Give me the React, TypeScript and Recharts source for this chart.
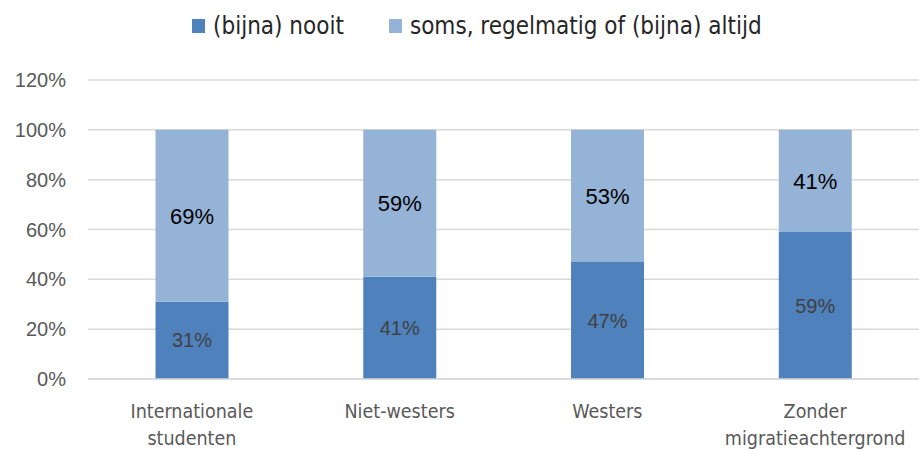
import React from 'react';
import { BarChart, Bar, XAxis, YAxis, CartesianGrid, LabelList } from 'recharts';

const categories = ['Internationale studenten', 'Niet-westers', 'Westers', 'Zonder migratieachtergrond'];
const categoryLines = [['Internationale', 'studenten'], ['Niet-westers'], ['Westers'], ['Zonder', 'migratieachtergrond']];
const nooit = [31, 41, 47, 59];
const soms = [69, 59, 53, 41];
const yTicks = [0, 20, 40, 60, 80, 100, 120];

const seriesNames = ['(bijna) nooit', 'soms, regelmatig of (bijna) altijd'];
const DARK = '#4F81BD';
const LIGHT = '#95B3D7';
const FONT = '"Liberation Sans", sans-serif';
const NARROW = '"DejaVu Sans Condensed", "Liberation Sans", sans-serif';

const data = categories.map((name, i) => ({
  name,
  nooit: nooit[i],
  soms: soms[i],
}));

const CategoryTick = (props: any) => {
  const { x, y, payload, index } = props;
  const lines = categoryLines[index] || [payload.value];
  return (
    <text x={x} y={y} textAnchor="middle" fill="#595959" fontSize={19.5} fontFamily={NARROW}>
      {lines.map((l: string, i: number) => (
        <tspan key={i} x={x} dy={i === 0 ? 31 : 27}>
          {l}
        </tspan>
      ))}
    </text>
  );
};

const LegendBox = () => (
  <div
    style={{
      position: 'absolute',
      top: 12,
      left: 192,
      display: 'flex',
      fontFamily: NARROW,
      fontSize: 24,
      lineHeight: '28px',
      color: '#262626',
      whiteSpace: 'nowrap',
    }}
  >
    {seriesNames.map((n, i) => (
      <div key={n} style={{ display: 'flex', alignItems: 'center', marginRight: i === 0 ? 45 : 0 }}>
        <span style={{ display: 'inline-block', width: 13, height: 14, background: i === 0 ? DARK : LIGHT, marginRight: 8 }} />
        <span>{n}</span>
      </div>
    ))}
  </div>
);

export default function App() {
  return (
    <div style={{ position: 'absolute', left: 0, top: 0, width: 919, height: 450, background: '#fff', overflow: 'hidden' }}>
      <BarChart
        width={919}
        height={450}
        data={data}
        margin={{ top: 80, right: 0, bottom: 0, left: 0 }}
        barCategoryGap="32.5%"
      >
        <CartesianGrid vertical={false} stroke="#D9D9D9" strokeWidth={1.5} />
        <XAxis
          dataKey="name"
          tick={<CategoryTick />}
          tickLine={false}
          axisLine={{ stroke: '#D9D9D9', strokeWidth: 1.5 }}
          interval={0}
          height={71}
        />
        <YAxis
          domain={[0, 120]}
          ticks={yTicks}
          tickFormatter={(v: number) => `${v}%`}
          axisLine={false}
          tickLine={false}
          tickSize={0}
          tickMargin={22}
          width={88}
          tick={{ fill: '#595959', fontSize: 20, fontFamily: FONT }}
        />
        <Bar dataKey="nooit" stackId="a" fill={DARK} isAnimationActive={false}>
          <LabelList
            dataKey="nooit"
            position="center"
            formatter={(v: any) => `${v}%`}
            fill="#404040"
            fontSize={20}
            fontFamily={FONT}
          />
        </Bar>
        <Bar dataKey="soms" stackId="a" fill={LIGHT} isAnimationActive={false}>
          <LabelList
            dataKey="soms"
            position="center"
            formatter={(v: any) => `${v}%`}
            fill="#000000"
            fontSize={22}
            fontFamily={FONT}
          />
        </Bar>
      </BarChart>
      <LegendBox />
    </div>
  );
}
